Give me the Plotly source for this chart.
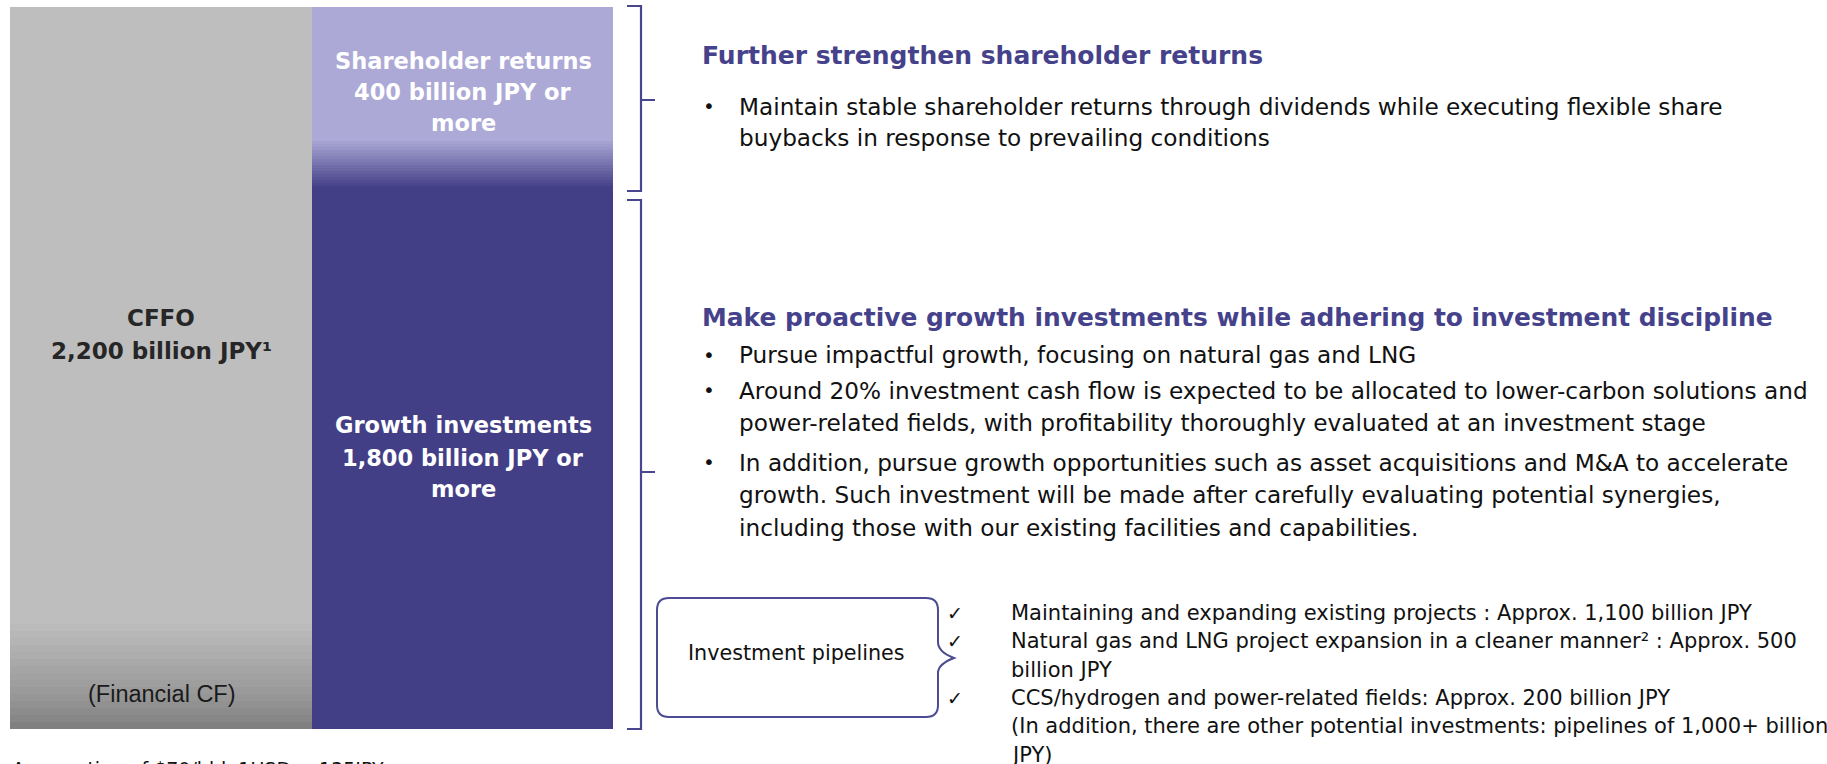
import plotly.graph_objects as go

# ---------------- data ----------------
bar_categories = ["CFFO", "Allocation"]
cffo_value = 2200          # billion JPY
growth_value = 1800        # billion JPY (or more)
shareholder_value = 400    # billion JPY (or more)

cffo_label = ["CFFO", "2,200 billion JPY¹"]
financial_cf_label = "(Financial CF)"
shareholder_label = ["Shareholder returns", "400 billion JPY or", "more"]
growth_label = ["Growth investments", "1,800 billion JPY or", "more"]

title1 = "Further strengthen shareholder returns"
bullets1 = [
    "Maintain stable shareholder returns through dividends while executing flexible share",
    "buybacks in response to prevailing conditions",
]
title2 = "Make proactive growth investments while adhering to investment discipline"
bullets2 = [
    "Pursue impactful growth, focusing on natural gas and LNG",
    "Around 20% investment cash flow is expected to be allocated to lower-carbon solutions and",
    "power-related fields, with profitability thoroughly evaluated at an investment stage",
    "In addition, pursue growth opportunities such as asset acquisitions and M&A to accelerate",
    "growth. Such investment will be made after carefully evaluating potential synergies,",
    "including those with our existing facilities and capabilities.",
]
bullets2_marked = [True, True, False, True, False, False]
pipeline_box_label = "Investment pipelines"
pipeline_items = [
    "Maintaining and expanding existing projects : Approx. 1,100 billion JPY",
    "Natural gas and LNG project expansion in a cleaner manner² : Approx. 500",
    "billion JPY",
    "CCS/hydrogen and power-related fields: Approx. 200 billion JPY",
    "(In addition, there are other potential investments: pipelines of 1,000+ billion",
    "JPY)",
]
pipeline_marked = [True, True, False, True, False, False]
footnote = "Assumption of $70/bbl, 1USD = 135JPY"

# ---------------- style ----------------
W, H = 1827, 764
GRAY = (190, 190, 190)
GRAY_DARK = (128, 128, 128)
LIGHT_P = (172, 169, 215)
DARK_P = (67, 63, 135)
TITLE_C = "#45428b"
LINE_C = "#48468e"
FONT = "DejaVu Sans"


def fx(px):
    return px / W


def fy(py):
    return 1 - py / H


def mix(c1, c2, t):
    return "rgb(%d,%d,%d)" % tuple(round(a + (b - a) * t) for a, b in zip(c1, c2))


# bar pieces (overlay mode with explicit base)
xs, ys, bases, cols = [], [], [], []
n = 16
# gray bar: gradient at the bottom
g_gray = cffo_value * 0.155
for i in range(n):
    t = i / (n - 1)
    xs.append(bar_categories[0]); ys.append(g_gray / n); bases.append(g_gray / n * i)
    cols.append(mix(GRAY_DARK, GRAY, t ** 0.8))
xs.append(bar_categories[0]); ys.append(cffo_value - g_gray); bases.append(g_gray); cols.append(mix(GRAY, GRAY, 0))
# purple column: growth (bottom) with gradient top, shareholder on top
g_p = growth_value * 0.08
xs.append(bar_categories[1]); ys.append(growth_value - g_p); bases.append(0); cols.append(mix(DARK_P, DARK_P, 0))
for i in range(n):
    t = (i + 1) / n
    xs.append(bar_categories[1]); ys.append(g_p / n); bases.append(growth_value - g_p + g_p / n * i)
    cols.append(mix(DARK_P, LIGHT_P, t))
xs.append(bar_categories[1]); ys.append(shareholder_value); bases.append(growth_value); cols.append(mix(LIGHT_P, LIGHT_P, 0))

fig = go.Figure()
fig.add_trace(go.Bar(x=xs, y=ys, base=bases, marker=dict(color=cols, line=dict(width=0)),
                     hoverinfo="skip", showlegend=False))

annotations = []


def txt(text, x, y, size, color="#111111", bold=False, xanchor="left", family=FONT, yanchor="middle"):
    if bold:
        text = "<b>%s</b>" % text
    annotations.append(dict(text=text, x=fx(x), y=fy(y), xref="paper", yref="paper",
                            xanchor=xanchor, yanchor=yanchor, showarrow=False,
                            font=dict(family=family, size=size, color=color)))


# bar labels
for line, yy in zip(shareholder_label, [61, 92, 123]):
    txt(line, 463, yy, 22.5, "white", True, "center")
for line, yy in zip(growth_label, [425, 458, 489]):
    txt(line, 463, yy, 22.5, "white", True, "center")
for line, yy in zip(cffo_label, [318, 351]):
    txt(line, 161, yy, 23, "#262626", True, "center")
txt(financial_cf_label, 162, 694, 23.5, "#1a1a1a", False, "center", family="Liberation Sans")

# right-hand texts
txt(title1, 700, 56, 25, TITLE_C, True)
for line, yy in zip(bullets1, [106, 137.5]):
    txt(line, 737, yy, 23.2)
txt("•", 701, 106, 20)
txt(title2, 700, 317, 24.9, TITLE_C, True)
for line, yy, mk in zip(bullets2, [355, 390, 422, 462, 494, 527], bullets2_marked):
    txt(line, 737, yy, 23.2)
    if mk:
        txt("•", 701, yy, 20)
txt(pipeline_box_label, 796, 653, 20.7, "#111111", False, "center")
for line, yy, mk in zip(pipeline_items, [613, 641, 670, 698, 726, 755], pipeline_marked):
    txt(line, 1009, yy, 21)
    if mk:
        txt("✓", 945, yy, 19)
txt(footnote, 10, 756, 19, "#111111", False, "left", yanchor="top")

# shapes: brackets and pipeline box


def path_px(cmds):
    out = []
    for c in cmds:
        if isinstance(c, str):
            out.append(c)
        else:
            out.append("%.6f,%.6f" % (fx(c[0]), fy(c[1])))
    return " ".join(out)


shapes = []
for top, bot, mid in [(6, 191, 100), (200, 729, 472)]:
    p = path_px(["M", (627, top), "L", (641, top), "L", (641, bot), "L", (627, bot),
                 "M", (641, mid), "L", (655, mid)])
    shapes.append(dict(type="path", path=p, xref="paper", yref="paper",
                       line=dict(color=LINE_C, width=2.2)))

x0, x1, y0, y1, r = 657, 938, 598, 717, 12
box = path_px([
    "M", (x0 + r, y0), "L", (x1 - r, y0), "Q", (x1, y0), (x1, y0 + r),
    "L", (x1, 642), "Q", (x1, 652), (954, 658), "Q", (x1, 664), (x1, 673),
    "L", (x1, y1 - r), "Q", (x1, y1), (x1 - r, y1),
    "L", (x0 + r, y1), "Q", (x0, y1), (x0, y1 - r),
    "L", (x0, y0 + r), "Q", (x0, y0), (x0 + r, y0), "Z"])
shapes.append(dict(type="path", path=box, xref="paper", yref="paper",
                   line=dict(color="#4d4b92", width=2), fillcolor="white"))

fig.update_layout(
    width=W, height=H, margin=dict(l=0, r=0, t=0, b=0),
    paper_bgcolor="white", plot_bgcolor="white",
    barmode="overlay", bargap=0,
    xaxis=dict(domain=[fx(10), fx(613)], visible=False, type="category",
               categoryorder="array", categoryarray=bar_categories, fixedrange=True),
    yaxis=dict(domain=[fy(729), fy(7)], range=[0, cffo_value], visible=False, fixedrange=True),
    annotations=annotations, shapes=shapes,
)

fig.write_html("out.html", config=dict(displayModeBar=False),
               post_script="document.body.style.margin='0';document.body.style.overflow='hidden';")
